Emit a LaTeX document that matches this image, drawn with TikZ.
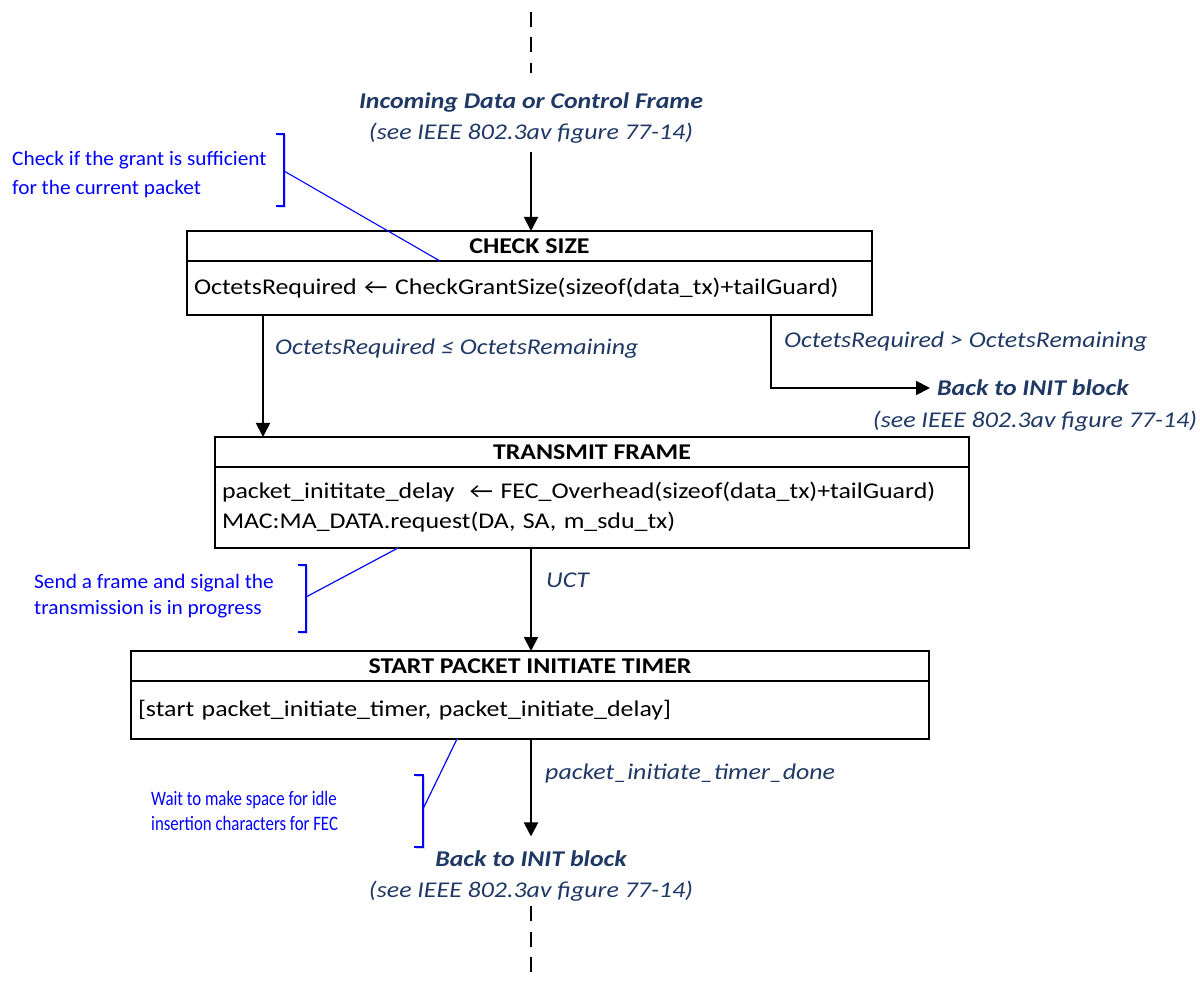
\documentclass[tikz,border=0pt]{standalone}
\usepackage{fontspec}
\setmainfont{Carlito}[FakeStretch=1.15]
\newfontfamily\notefont{Carlito}[FakeStretch=1.04]
\newfontfamily\narrowfont{Carlito}[FakeStretch=0.82]
\usetikzlibrary{arrows.meta}
\definecolor{navy}{RGB}{31,56,100}
\definecolor{annot}{RGB}{0,0,255}
\definecolor{shade}{RGB}{215,215,225}
\begin{document}
\begin{tikzpicture}[x=1pt,y=-1pt,
  hdr/.style={draw, line width=1.8pt, anchor=north west, inner sep=0pt, outer sep=0pt,
    font=\fontsize{22.5}{27}\selectfont\bfseries},
  bodybox/.style={draw, line width=1.8pt, anchor=north west, inner xsep=7pt, inner ysep=0pt,
    outer sep=0pt, align=left, font=\fontsize{22.5}{30}\selectfont},
  arr/.style={line width=1.9pt, -{Triangle[width=14pt,length=14pt]}},
  dashline/.style={line width=2.2pt, dash pattern=on 15pt off 10.5pt},
  cond/.style={text=navy, inner sep=0pt, anchor=west, font=\fontsize{22.5}{27}\selectfont\itshape},
  ref/.style={text=navy, inner sep=0pt, align=center, font=\fontsize{22.5}{31}\selectfont\itshape},
  refhead/.style={text=navy, inner sep=0pt, font=\fontsize{22.5}{27}\selectfont\bfseries\itshape},
  note/.style={text=annot, inner sep=0pt, anchor=west, align=left},
  brace/.style={draw=annot, line width=1.3pt},
  braceshade/.style={draw=shade, line width=1.3pt}]
\useasboundingbox (0,0) rectangle (1200,981);

% guide columns
\coordinate (mid) at (531,0);
\coordinate (lx) at (263,0);
\coordinate (rx) at (771,0);

% incoming reference
\draw[dashline] (531,12) coordinate (d1) -- (531,73) coordinate (d2);
\node[ref] (inc) at (531,118.5) {{\bfseries Incoming Data or Control Frame}\\(see IEEE 802.3av figure 77-14)};

% CHECK SIZE
\node[hdr, minimum width=685pt, minimum height=30pt] (cs) at (187,231) {CHECK SIZE};
\node[bodybox, minimum width=685pt, text width=671pt, minimum height=54pt] (csb) at (cs.south west)
  {OctetsRequired ← CheckGrantSize(sizeof(data\_tx)+tailGuard)};

% TRANSMIT FRAME
\node[hdr, minimum width=754pt, minimum height=30pt] (tf) at (215,437) {TRANSMIT FRAME};
\node[bodybox, minimum width=754pt, text width=740pt, minimum height=81pt] (tfb) at (tf.south west)
  {packet\_inititate\_delay \ ← FEC\_Overhead(sizeof(data\_tx)+tailGuard)\\
   MAC:MA\_DATA.request(DA, SA, m\_sdu\_tx)};

% START PACKET INITIATE TIMER
\node[hdr, minimum width=798pt, minimum height=30pt] (st) at (131,651) {START PACKET INITIATE TIMER};
\node[bodybox, minimum width=798pt, text width=784pt, minimum height=58pt] (stb) at (st.south west)
  {[start packet\_initiate\_timer, packet\_initiate\_delay]};

% exit references
\node[refhead, anchor=west] (back1) at (937,388) {Back to INIT block};
\node[ref] (see1) at (1035,421) {(see IEEE 802.3av figure 77-14)};
\node[ref] (back2) at (531,876) {{\bfseries Back to INIT block}\\(see IEEE 802.3av figure 77-14)};
\draw[dashline] (531,906) coordinate (d3) -- (531,975) coordinate (d4);

% transitions
\draw[arr, shorten <=8pt] (inc.south -| mid) -- (cs.north -| mid);
\draw[arr] (csb.south -| lx) -- (tf.north -| lx);
\draw[arr, shorten >=7pt] (csb.south -| rx) |- (back1.west);
\draw[arr] (tfb.south -| mid) -- (st.north -| mid);
\draw[arr, shorten >=14pt] (stb.south -| mid) -- (back2.north -| mid);

% transition conditions
\node[cond] (c1) at (275,349) {OctetsRequired ≤ OctetsRemaining};
\node[cond] (c2) at (784,342) {OctetsRequired > OctetsRemaining};
\node[cond] (c3) at (546,580) {UCT};
\node[cond] (c4) at (545,773) {packet\_initiate\_timer\_done};

% annotations
\node[note, font=\fontsize{20.5}{29}\notefont] (n1) at (12,174.5) {Check if the grant is sufficient\\for the current packet};
\node[note, font=\fontsize{20.5}{26}\notefont] (n2) at (34,596) {Send a frame and signal the\\transmission is in progress};
\node[note, font=\fontsize{20.5}{25}\narrowfont] (n3) at (151,810.5) {Wait to make space for idle\\insertion characters for FEC};

\coordinate (b1) at (284,171);
\coordinate (b2) at (306,597);
\coordinate (b3) at (423,809);
\coordinate (t1) at (440,261);
\coordinate (t2) at (398,548);
\coordinate (t3) at (457,739);

\begin{scope}[shift={(1.6,1.6)}]
  \draw[braceshade] (276,134) -- (284,134) -- (284,206) -- (276,206);
  \draw[braceshade] (298,565) -- (306,565) -- (306,632) -- (298,632);
  \draw[braceshade] (414,775) -- (423,775) -- (423,847) -- (414,847);
  \draw[braceshade] (b2) -- (t2);
  \draw[braceshade] (b3) -- (t3);
\end{scope}
\draw[brace] (276,134) -- (284,134) -- (284,206) -- (276,206);
\draw[brace] (298,565) -- (306,565) -- (306,632) -- (298,632);
\draw[brace] (414,775) -- (423,775) -- (423,847) -- (414,847);
\draw[annot, line width=1.1pt] (b1) -- (t1);
\draw[annot, line width=1.1pt] (b2) -- (t2);
\draw[annot, line width=1.1pt] (b3) -- (t3);
\end{tikzpicture}
\end{document}
